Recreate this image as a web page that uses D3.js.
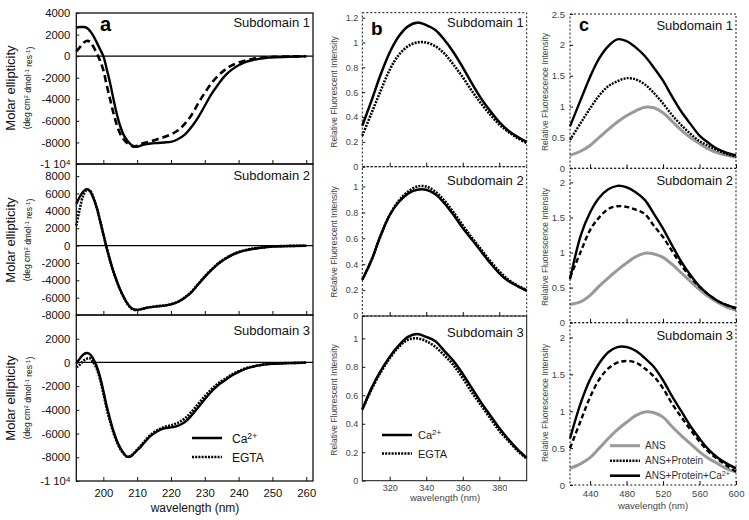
<!DOCTYPE html>
<html><head><meta charset="utf-8">
<script src="https://cdn.jsdelivr.net/npm/d3@7"></script>
<style>body{margin:0;background:#fff} svg{display:block;font-family:"Liberation Sans",Arial,sans-serif}</style>
</head><body>
<svg id="chart" width="749" height="520"></svg>
<script>
// ---------------- DATA ----------------
// Panel a: CD spectra (wavelength nm, molar ellipticity)
const wlCD = [192,193,194,195,196,197,198,199,200,201,202,203,204,205,206,207,208,209,210,211,212,214,216,218,220,222,224,226,228,230,232,234,236,238,240,242,244,246,248,250,255,260];
const a1Ca   = [2650,2700,2700,2650,2350,1900,1300,650,0,-1200,-2500,-4000,-5400,-6500,-7300,-7800,-8150,-8350,-8400,-8300,-8200,-8100,-8050,-8000,-7950,-7700,-7300,-6600,-5700,-4600,-3500,-2600,-1800,-1250,-850,-550,-380,-250,-170,-110,-50,-20];
const a1EGTA = [450,800,1200,1400,1350,900,300,-400,-1300,-2700,-4000,-5300,-6400,-7200,-7700,-8050,-8250,-8400,-8300,-8150,-8050,-7900,-7700,-7500,-7250,-6900,-6300,-5500,-4400,-3400,-2500,-1800,-1250,-850,-600,-400,-270,-170,-110,-70,-30,-10];
const a2Ca   = [4800,5600,6200,6500,6300,5500,4400,2900,1300,-300,-1700,-3000,-4100,-5100,-5900,-6600,-7100,-7350,-7400,-7350,-7250,-7100,-7000,-6920,-6780,-6500,-6050,-5400,-4500,-3600,-2800,-2100,-1550,-1100,-780,-560,-400,-280,-190,-120,-50,-20];
const a2EGTA = [2300,4200,5700,6400,6350,5600,4450,2950,1300,-300,-1750,-3050,-4150,-5150,-5950,-6650,-7150,-7400,-7450,-7350,-7250,-7080,-6980,-6900,-6760,-6480,-6000,-5350,-4450,-3550,-2750,-2050,-1500,-1050,-740,-520,-370,-250,-170,-100,-40,-15];
const a3Ca   = [-80,300,650,800,700,300,-300,-1200,-2400,-3700,-4800,-5800,-6600,-7200,-7650,-7950,-7950,-7700,-7400,-7150,-6800,-6200,-5800,-5550,-5480,-5350,-5050,-4500,-3800,-3100,-2450,-1900,-1500,-1100,-800,-550,-380,-250,-160,-110,-60,-20];
const a3EGTA = [-400,-200,100,300,350,0,-500,-1400,-2600,-3900,-5000,-5950,-6700,-7300,-7700,-7950,-7900,-7650,-7350,-7050,-6700,-6100,-5700,-5450,-5300,-5100,-4750,-4200,-3500,-2850,-2250,-1750,-1380,-1020,-740,-510,-350,-230,-150,-100,-50,-15];

// Panel b: intrinsic fluorescence
const wlB = [305,310,315,320,325,330,335,340,345,350,355,360,365,370,375,380,385,390,395];
const b1Ca   = [0.33,0.53,0.74,0.92,1.05,1.13,1.16,1.14,1.10,1.02,0.92,0.80,0.67,0.55,0.45,0.36,0.29,0.24,0.20];
const b1EGTA = [0.25,0.43,0.61,0.78,0.90,0.97,1.00,1.00,0.97,0.91,0.82,0.72,0.61,0.51,0.42,0.34,0.28,0.23,0.19];
const b2Ca   = [0.28,0.43,0.62,0.78,0.88,0.945,0.975,0.975,0.94,0.87,0.78,0.68,0.59,0.50,0.41,0.33,0.27,0.23,0.195];
const b2EGTA = [0.28,0.43,0.62,0.78,0.89,0.96,1.00,1.00,0.96,0.89,0.80,0.70,0.605,0.515,0.425,0.345,0.28,0.235,0.20];
const b3Ca   = [0.50,0.65,0.77,0.87,0.95,1.01,1.03,1.01,0.98,0.91,0.84,0.75,0.65,0.55,0.46,0.37,0.29,0.22,0.16];
const b3EGTA = [0.50,0.64,0.76,0.86,0.94,0.99,1.00,0.98,0.94,0.88,0.81,0.72,0.62,0.53,0.44,0.35,0.28,0.21,0.155];

// Panel c: ANS fluorescence
const wlC = [418,430,440,450,460,470,480,490,500,510,520,530,540,550,560,570,580,590,600];
const c1ANS  = [0.21,0.28,0.37,0.50,0.63,0.75,0.85,0.93,0.99,0.98,0.90,0.76,0.62,0.50,0.40,0.31,0.25,0.21,0.18];
const c1Prot = [0.46,0.74,0.97,1.18,1.33,1.41,1.46,1.44,1.36,1.22,1.05,0.86,0.70,0.56,0.44,0.36,0.29,0.23,0.19];
const c1Ca   = [0.68,1.12,1.48,1.78,1.98,2.09,2.06,1.96,1.82,1.63,1.42,1.16,0.92,0.72,0.53,0.41,0.31,0.25,0.21];
const c2ANS  = [0.26,0.30,0.39,0.52,0.64,0.75,0.85,0.94,0.99,0.98,0.93,0.83,0.71,0.59,0.47,0.37,0.29,0.22,0.18];
const c2Prot = [0.645,1.02,1.32,1.50,1.62,1.66,1.65,1.61,1.55,1.38,1.22,1.02,0.82,0.65,0.51,0.40,0.31,0.25,0.20];
const c2Ca   = [0.62,1.25,1.57,1.78,1.90,1.95,1.93,1.86,1.75,1.55,1.34,1.10,0.87,0.68,0.52,0.40,0.31,0.25,0.21];
const c3ANS  = [0.225,0.29,0.37,0.50,0.63,0.75,0.85,0.94,0.99,0.98,0.92,0.79,0.67,0.56,0.45,0.36,0.29,0.22,0.18];
const c3Prot = [0.50,0.88,1.19,1.43,1.58,1.66,1.68,1.66,1.58,1.47,1.31,1.10,0.92,0.75,0.59,0.45,0.35,0.26,0.18];
const c3Ca   = [0.63,1.12,1.43,1.65,1.80,1.87,1.87,1.82,1.72,1.60,1.42,1.20,1.00,0.80,0.63,0.48,0.37,0.29,0.225];

// Tick values / labels
const aXTicks = [200,210,220,230,240,250,260];
const a1YTicks = [-10000,-8000,-6000,-4000,-2000,0,2000,4000];
const a1YLabels = ["-1 10^4","-8000","-6000","-4000","-2000","0","2000","4000"];
const a2YTicks = [-8000,-6000,-4000,-2000,0,2000,4000,6000,8000];
const a2YLabels = ["-8000","-6000","-4000","-2000","0","2000","4000","6000","8000"];
const a3YTicks = [-10000,-8000,-6000,-4000,-2000,0,2000];
const a3YLabels = ["-1 10^4","-8000","-6000","-4000","-2000","0","2000"];
const bXTicks = [320,340,360,380];
const b1YTicks = [0,0.2,0.4,0.6,0.8,1,1.2];
const b1YLabels = ["0","0.2","0.4","0.6","0.8","1","1.2"];
const b23YTicks = [0,0.2,0.4,0.6,0.8,1];
const b23YLabels = ["0","0.2","0.4","0.6","0.8","1"];
const cXTicks = [440,480,520,560,600];
const c1YTicks = [0,0.5,1,1.5,2,2.5];
const c1YLabels = ["0","0.5","1","1.5","2","2.5"];
const c23YTicks = [0,0.5,1,1.5,2];
const c23YLabels = ["0","0.5","1","1.5","2"];
const subLabels = ["Subdomain 1","Subdomain 2","Subdomain 3"];
const legendAB = [["Ca","2+"],["EGTA",""]];
const legendC = [["ANS",""],["ANS+Protein",""],["ANS+Protein+Ca","2+"]];

// ---------------- DRAWING ----------------
const svg = d3.select("#chart");

function supLabel(textSel, str) {
  const parts = str.split("^");
  textSel.text(null);
  textSel.append("tspan").text(parts[0]);
  if (parts.length > 1) {
    textSel.append("tspan").attr("dy","-0.45em").attr("font-size","0.7em").text(parts[1]);
  }
}
function supText(sel, base, sup) {
  sel.append("tspan").text(base);
  if (sup) sel.append("tspan").attr("dy","-0.45em").attr("font-size","0.72em").text(sup);
}

function drawSub(p) {
  const g = svg.append("g");
  const x = p.x;
  const y = d3.scaleLinear().domain(p.yDomain).range(p.yRange);
  const [x0, x1] = x.range();
  const [yb, yt] = p.yRange;

  if (p.zero) {
    g.append("line").attr("x1", x0).attr("x2", x1).attr("y1", y(0)).attr("y2", y(0))
      .attr("stroke", "#000").attr("stroke-width", 1.2);
  }
  p.series.forEach(s => {
    const line = d3.line().x((d, i) => x(s.xs[i])).y(d => y(d)).curve(d3.curveCatmullRom.alpha(0.5));
    g.append("path").datum(s.ys).attr("d", line).attr("fill", "none")
      .attr("stroke", s.color).attr("stroke-width", s.width)
      .attr("stroke-dasharray", s.dash || null).attr("stroke-linejoin", "round");
  });

  g.append("rect").attr("x", x0).attr("y", yt).attr("width", x1 - x0).attr("height", yb - yt)
    .attr("fill", "none").attr("stroke", "#111").attr("stroke-width", p.frameW || 1)
    .attr("stroke-dasharray", p.frameDash || null);

  const ya = g.append("g").attr("transform", `translate(${x0},0)`)
    .call(d3.axisLeft(y).tickValues(p.yTicks).tickFormat((d, i) => p.yLabels[i])
      .tickSizeInner(-3).tickSizeOuter(0).tickPadding(p.yPad));
  ya.select(".domain").remove();
  ya.selectAll("line").attr("stroke", "#111");
  ya.selectAll("text").attr("font-size", p.tickFont).attr("fill", p.tickColor)
    .attr("font-family", "Liberation Sans, Arial, sans-serif")
    .each(function(d, i) { supLabel(d3.select(this), p.yLabels[i]); });

  const xa = g.append("g").attr("transform", `translate(0,${yb})`)
    .call(d3.axisBottom(x).tickValues(p.xTicks).tickFormat(p.showX ? (d => d) : (() => ""))
      .tickSizeInner(-4).tickSizeOuter(0).tickPadding(p.xPad || 6));
  xa.select(".domain").remove();
  xa.selectAll("line").attr("stroke", "#111");
  xa.selectAll("text").attr("font-size", p.tickFont).attr("fill", p.tickColor)
    .attr("font-family", "Liberation Sans, Arial, sans-serif");

  g.append("text").attr("x", x1 - 3).attr("y", p.subY).attr("text-anchor", "end")
    .attr("font-size", 13).attr("fill", "#111").text(p.sub);

  const cy = p.yLabelCY;
  if (p.yLabelType === "a") {
    g.append("text").attr("transform", `translate(15,${cy}) rotate(-90)`)
      .attr("text-anchor", "middle").attr("font-size", 13).attr("fill", "#111").text("Molar ellipticity");
    const t = g.append("text").attr("transform", `translate(30,${cy}) rotate(-90)`)
      .attr("text-anchor", "middle").attr("font-size", 8.5).attr("fill", "#111");
    t.append("tspan").text("(deg cm");
    t.append("tspan").attr("dy", "-0.4em").attr("font-size", 6).text("2");
    t.append("tspan").attr("dy", "0.4em").text(" dmol");
    t.append("tspan").attr("dy", "-0.4em").attr("font-size", 6).text("-1");
    t.append("tspan").attr("dy", "0.4em").text(" res");
    t.append("tspan").attr("dy", "-0.4em").attr("font-size", 6).text("-1");
    t.append("tspan").attr("dy", "0.4em").text(")");
  } else {
    g.append("text").attr("transform", `translate(${p.yLabelX},${cy}) rotate(-90)`)
      .attr("text-anchor", "middle").attr("font-size", p.yLabelFont).attr("fill", "#444").text(p.yLabelText);
  }
  return {g, x, y};
}

// ----- Panel a -----
const xA = d3.scaleLinear().domain([192, 262]).range([76.3, 313]);
const aRows = [
  {yr: [164, 13], yd: [-10000, 4000], yt: a1YTicks, yl: a1YLabels, ca: a1Ca, eg: a1EGTA, dash: "7,4", subY: 27, cy: 88},
  {yr: [315, 164], yd: [-8000, 9400], yt: a2YTicks, yl: a2YLabels, ca: a2Ca, eg: a2EGTA, dash: "2,1.2", subY: 180, cy: 240},
  {yr: [481, 315], yd: [-10000, 4000], yt: a3YTicks, yl: a3YLabels, ca: a3Ca, eg: a3EGTA, dash: "2,1.2", subY: 335, cy: 398}
];
aRows.forEach((r, i) => {
  drawSub({x: xA, yRange: r.yr, yDomain: r.yd, yTicks: r.yt, yLabels: r.yl, zero: true,
    xTicks: aXTicks, showX: i === 2, xPad: 8, yPad: 6, tickFont: 11.3, tickColor: "#111",
    frameW: 1.3, sub: subLabels[i], subY: r.subY, yLabelType: "a", yLabelCY: r.cy,
    series: [
      {xs: wlCD, ys: r.ca, color: "#000", width: 2.4},
      {xs: wlCD, ys: r.eg, color: "#000", width: 2.6, dash: r.dash}
    ]});
});
svg.append("text").attr("x", 100).attr("y", 31).attr("font-size", 20).attr("font-weight", "bold").text("a");
svg.append("text").attr("x", 195).attr("y", 512).attr("text-anchor", "middle").attr("font-size", 12).attr("fill", "#111").text("wavelength (nm)");
legendAB.forEach((l, i) => {
  const yy = 438 + i * 19;
  svg.append("line").attr("x1", 192).attr("x2", 222).attr("y1", yy).attr("y2", yy)
    .attr("stroke", "#000").attr("stroke-width", 2.5).attr("stroke-dasharray", i === 1 ? "2,1.2" : null);
  const t = svg.append("text").attr("x", 232).attr("y", yy + 4.5).attr("font-size", 12).attr("fill", "#111");
  supText(t, l[0], l[1]);
});

// ----- Panel b -----
const xB = d3.scaleLinear().domain([305, 395]).range([362.3, 526.7]);
const bRows = [
  {yr: [166.7, 12.7], yd: [0, 1.24], yt: b1YTicks, yl: b1YLabels, ca: b1Ca, eg: b1EGTA, frame: "2,2", subY: 27, cy: 92},
  {yr: [316, 166.7], yd: [0, 1.153], yt: b23YTicks, yl: b23YLabels, ca: b2Ca, eg: b2EGTA, frame: "2,2", subY: 185, cy: 242},
  {yr: [480.7, 316], yd: [0, 1.157], yt: b23YTicks, yl: b23YLabels, ca: b3Ca, eg: b3EGTA, frame: null, subY: 337, cy: 400}
];
bRows.forEach((r, i) => {
  drawSub({x: xB, yRange: r.yr, yDomain: r.yd, yTicks: r.yt, yLabels: r.yl, zero: false,
    xTicks: bXTicks, showX: i === 2, xPad: 4, yPad: 4, tickFont: 9, tickColor: "#444",
    frameW: 1, frameDash: r.frame, sub: subLabels[i], subY: r.subY, yLabelType: "b",
    yLabelX: 337, yLabelCY: r.cy, yLabelFont: 8.5, yLabelText: "Relative Fluorescent Intensity",
    series: [
      {xs: wlB, ys: r.ca, color: "#000", width: 2.5},
      {xs: wlB, ys: r.eg, color: "#000", width: 2.6, dash: "2,1.2"}
    ]});
});
svg.append("text").attr("x", 371).attr("y", 35).attr("font-size", 19).attr("font-weight", "bold").text("b");
svg.append("text").attr("x", 445).attr("y", 501).attr("text-anchor", "middle").attr("font-size", 9.5).attr("fill", "#444").text("wavelength (nm)");
legendAB.forEach((l, i) => {
  const yy = 435 + i * 18.5;
  svg.append("line").attr("x1", 382).attr("x2", 412).attr("y1", yy).attr("y2", yy)
    .attr("stroke", "#000").attr("stroke-width", 2.5).attr("stroke-dasharray", i === 1 ? "2,1.2" : null);
  const t = svg.append("text").attr("x", 418).attr("y", yy + 4).attr("font-size", 11).attr("fill", "#222");
  supText(t, l[0], l[1]);
});

// ----- Panel c -----
const xC = d3.scaleLinear().domain([418, 600]).range([570, 736]);
const cRows = [
  {yr: [168.3, 14], yd: [0, 2.5], yt: c1YTicks, yl: c1YLabels, ans: c1ANS, prot: c1Prot, ca: c1Ca, dash: "2,1.2", subY: 30, cy: 92},
  {yr: [322.7, 168.3], yd: [0, 2.2], yt: c23YTicks, yl: c23YLabels, ans: c2ANS, prot: c2Prot, ca: c2Ca, dash: "5,3", subY: 185, cy: 247},
  {yr: [485, 322.7], yd: [0, 2.2], yt: c23YTicks, yl: c23YLabels, ans: c3ANS, prot: c3Prot, ca: c3Ca, dash: "5,3", subY: 340, cy: 403}
];
cRows.forEach((r, i) => {
  drawSub({x: xC, yRange: r.yr, yDomain: r.yd, yTicks: r.yt, yLabels: r.yl, zero: false,
    xTicks: cXTicks, showX: i === 2, xPad: 5, yPad: 5, tickFont: 9.5, tickColor: "#444",
    frameW: 1, frameDash: "2,2", sub: subLabels[i], subY: r.subY, yLabelType: "c",
    yLabelX: 548, yLabelCY: r.cy, yLabelFont: 8.5, yLabelText: "Relative Fluorescence Intensity",
    series: [
      {xs: wlC, ys: r.ans, color: "#999", width: 3},
      {xs: wlC, ys: r.prot, color: "#000", width: 2.4, dash: r.dash},
      {xs: wlC, ys: r.ca, color: "#000", width: 2.4}
    ]});
});
svg.append("text").attr("x", 579).attr("y", 31).attr("font-size", 18).attr("font-weight", "bold").text("c");
svg.append("text").attr("x", 653).attr("y", 509).attr("text-anchor", "middle").attr("font-size", 9.5).attr("fill", "#444").text("wavelength (nm)");
const legCStyles = [{c: "#999", w: 3, d: null}, {c: "#000", w: 2.4, d: "2,1.2"}, {c: "#000", w: 2.6, d: null}];
legendC.forEach((l, i) => {
  const yy = 445.7 + i * 15;
  const st = legCStyles[i];
  svg.append("line").attr("x1", 610).attr("x2", 640).attr("y1", yy).attr("y2", yy)
    .attr("stroke", st.c).attr("stroke-width", st.w).attr("stroke-dasharray", st.d);
  const t = svg.append("text").attr("x", 645).attr("y", yy + 3.5).attr("font-size", 10).attr("fill", "#333");
  supText(t, l[0], l[1]);
});
</script>
</body></html>
